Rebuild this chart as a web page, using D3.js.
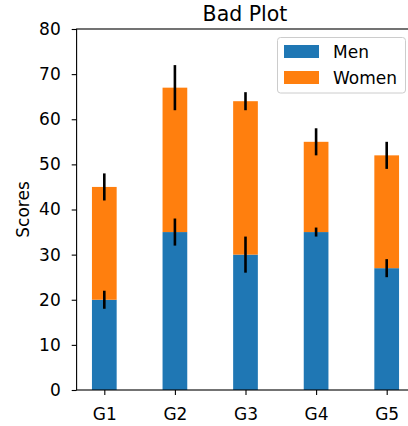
<!DOCTYPE html>
<html><head><meta charset="utf-8">
<script src="https://cdn.jsdelivr.net/npm/d3@7"></script>
<style>body{margin:0;background:#fff}svg{display:block;font-family:"DejaVu Sans",sans-serif}</style>
</head><body>
<svg id="c" width="408" height="426"></svg>
<script>
const categories = ["G1","G2","G3","G4","G5"];
const menMeans = [20, 35, 30, 35, 27];
const womenMeans = [25, 32, 34, 20, 25];
const menStd = [2, 3, 4, 1, 2];
const womenStd = [3, 5, 2, 3, 3];
const yTicks = [0,10,20,30,40,50,60,70,80];
const seriesNames = ["Men","Women"];
const colors = ["#1f77b4","#ff7f0e"];

const svg = d3.select("#c");
const L = 76.6, R = 414.4, T = 29, B = 390;
const x = d3.scaleLinear().domain([-0.3925, 4.3925]).range([L, R]);
const y = d3.scaleLinear().domain([0, 80]).range([B, T]);
const bw = 0.35;
const idx = categories.map((_, i) => i);
const FS = 17;

const g = svg.append("g");
g.selectAll(".men").data(idx).join("rect")
  .attr("x", i => x(i - bw/2)).attr("width", i => x(i + bw/2) - x(i - bw/2))
  .attr("y", i => y(menMeans[i])).attr("height", i => y(0) - y(menMeans[i]))
  .attr("fill", colors[0]);
g.selectAll(".women").data(idx).join("rect")
  .attr("x", i => x(i - bw/2)).attr("width", i => x(i + bw/2) - x(i - bw/2))
  .attr("y", i => y(menMeans[i] + womenMeans[i])).attr("height", i => y(menMeans[i]) - y(menMeans[i] + womenMeans[i]))
  .attr("fill", colors[1]);
g.selectAll(".menErr").data(idx).join("line")
  .attr("x1", i => x(i)).attr("x2", i => x(i))
  .attr("y1", i => y(menMeans[i] - menStd[i])).attr("y2", i => y(menMeans[i] + menStd[i]))
  .attr("stroke", "#000").attr("stroke-width", 2.6);
g.selectAll(".womenErr").data(idx).join("line")
  .attr("x1", i => x(i)).attr("x2", i => x(i))
  .attr("y1", i => y(menMeans[i] + womenMeans[i] - womenStd[i])).attr("y2", i => y(menMeans[i] + womenMeans[i] + womenStd[i]))
  .attr("stroke", "#000").attr("stroke-width", 2.6);

const yAxis = svg.append("g").attr("transform", `translate(${L},0)`)
  .call(d3.axisLeft(y).tickValues(yTicks).tickSize(4.9).tickPadding(11));
const xAxis = svg.append("g").attr("transform", `translate(0,${B})`)
  .call(d3.axisBottom(x).tickValues(idx).tickFormat(i => categories[i]).tickSize(4.9));
[yAxis, xAxis].forEach(a => {
  a.selectAll("text").attr("font-size", FS).attr("font-family", "DejaVu Sans").attr("fill", "#000");
  a.selectAll("line").attr("stroke", "#000").attr("stroke-width", 1.1);
  a.select(".domain").remove();
});
xAxis.selectAll("text").attr("y", 30).attr("dy", 0);
svg.append("rect").attr("x", L).attr("y", T).attr("width", R - L).attr("height", B - T)
  .attr("fill", "none").attr("stroke", "#000").attr("stroke-width", 1.1);

svg.append("text").attr("x", 245).attr("y", 21).attr("text-anchor", "middle")
  .attr("font-size", 20.5).text("Bad Plot");
svg.append("text").attr("transform", `translate(29,${(T + B) / 2}) rotate(-90)`)
  .attr("text-anchor", "middle").attr("font-size", FS).text("Scores");

const lg = svg.append("g");
lg.append("rect").attr("x", 277.5).attr("y", 37.5).attr("width", 128).attr("height", 55.5)
  .attr("rx", 3).attr("fill", "#fff").attr("fill-opacity", 0.8).attr("stroke", "#ccc");
seriesNames.forEach((n, i) => {
  lg.append("rect").attr("x", 284).attr("y", 45 + i * 26).attr("width", 35).attr("height", 13).attr("fill", colors[i]);
  lg.append("text").attr("x", 333).attr("y", 58.3 + i * 25.5).attr("font-size", FS).text(n);
});
</script>
</body></html>
